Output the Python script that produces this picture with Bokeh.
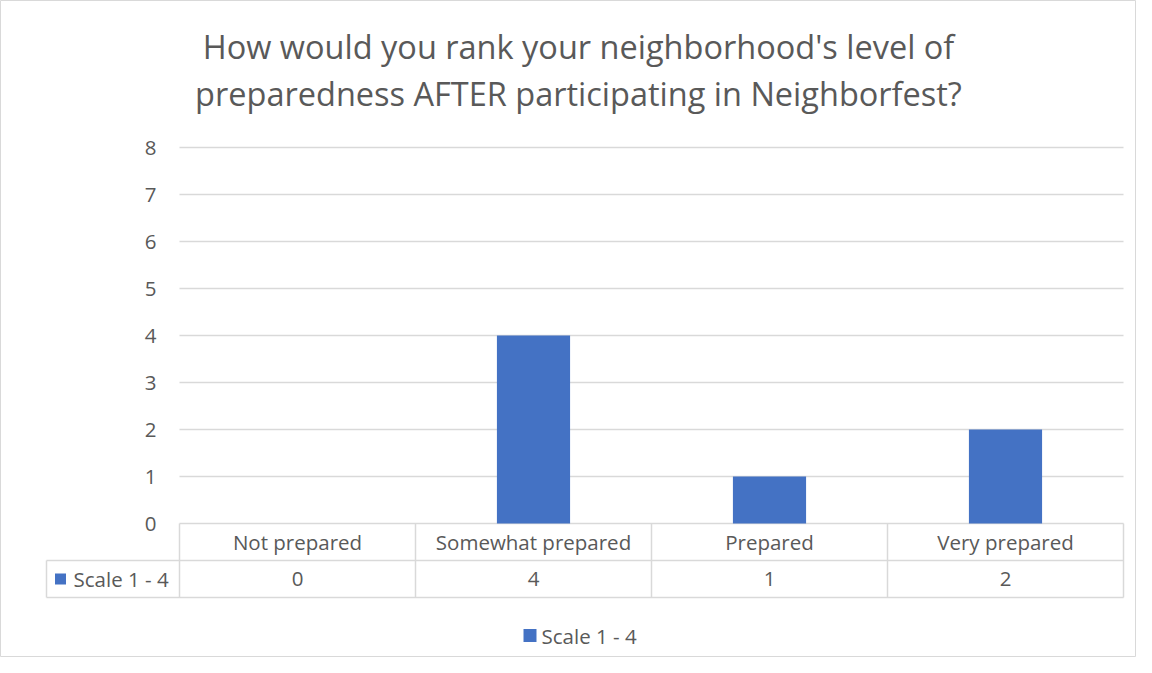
from bokeh.plotting import figure
from bokeh.models import Range1d
from bokeh.core.properties import value
from bokeh.embed import file_html
from bokeh.resources import INLINE

# ---- data ----
categories = ["Not prepared", "Somewhat prepared", "Prepared", "Very prepared"]
counts = [0, 4, 1, 2]
series_name = "Scale 1 - 4"
y_ticks = [0, 1, 2, 3, 4, 5, 6, 7, 8]
title_lines = ["How would you rank your neighborhood's level of",
               "preparedness AFTER participating in Neighborfest?"]

# ---- layout helpers (pixel geometry of the reference) ----
W, H = 1136, 657
OFF = 0
PX_X = 236.0   # pixels per category column
PX_Y = 47.0    # pixels per value unit
X0, Y0 = 179.0, 523.0


def dx(px):
    return (px - X0) / PX_X


def dy(py):
    return (Y0 - py) / PX_Y


FONT = value("Open Sans")
TXT = "#595959"
LINE = "#d9d9d9"
BAR = "#4472C4"
ROW = 37.0 / PX_Y
n = len(categories)
LBL = "20.5px"

p = figure(width=W, height=H,
           x_range=Range1d(dx(OFF), dx(OFF + W)),
           y_range=Range1d(dy(OFF + H), dy(OFF)),
           min_border=0, output_backend="svg", toolbar_location=None)
p.title.visible = False
p.axis.visible = False
p.grid.visible = False
p.outline_line_color = LINE
p.outline_line_width = 1
p.background_fill_color = "white"
p.border_fill_color = "white"

# gridlines
p.segment(x0=[0] * len(y_ticks), x1=[n] * len(y_ticks), y0=y_ticks, y1=y_ticks,
          line_color=LINE, line_width=1.3)
# y tick labels
p.text(x=[dx(156)] * len(y_ticks), y=y_ticks, text=[str(t) for t in y_ticks],
       text_font=FONT, text_font_size=LBL, text_color=TXT,
       text_align="right", text_baseline="middle")

# bars
xs = [i + 0.5 for i in range(n)]
p.vbar(x=xs, top=counts, bottom=0, width=0.31, fill_color=BAR, line_color=None)

# data table lines
left = dx(46)
p.segment(x0=[left, left], x1=[n, n], y0=[-ROW, -2 * ROW], y1=[-ROW, -2 * ROW],
          line_color=LINE, line_width=1.5)
p.segment(x0=list(range(n + 1)), x1=list(range(n + 1)),
          y0=[0] * (n + 1), y1=[-2 * ROW] * (n + 1), line_color=LINE, line_width=1.5)
p.segment(x0=[left], x1=[left], y0=[-ROW], y1=[-2 * ROW], line_color=LINE, line_width=1.5)

# table texts
p.text(x=xs, y=[-ROW / 2] * n, text=categories, text_font=FONT, text_font_size=LBL,
       text_color=TXT, text_align="center", text_baseline="middle")
p.text(x=xs, y=[-1.5 * ROW] * n, text=[str(c) for c in counts], text_font=FONT,
       text_font_size=LBL, text_color=TXT, text_align="center", text_baseline="middle")
p.scatter(x=[dx(60)], y=[-1.5 * ROW], marker="square", size=11, fill_color=BAR, line_color=None)
p.text(x=[dx(73)], y=[-1.5 * ROW], text=[series_name], text_font=FONT, text_font_size=LBL,
       text_color=TXT, text_align="left", text_baseline="middle")

# legend
p.scatter(x=[dx(529.5)], y=[dy(635)], marker="square", size=13, fill_color=BAR, line_color=None)
p.text(x=[dx(541)], y=[dy(635)], text=[series_name], text_font=FONT, text_font_size=LBL,
       text_color=TXT, text_align="left", text_baseline="middle")

# title
p.text(x=[dx(578)] * 2, y=[dy(46), dy(93)], text=title_lines, text_font=FONT,
       text_font_size="32.5px", text_color=TXT, text_align="center", text_baseline="middle")

open("out.html", "w").write(file_html(p, INLINE))
